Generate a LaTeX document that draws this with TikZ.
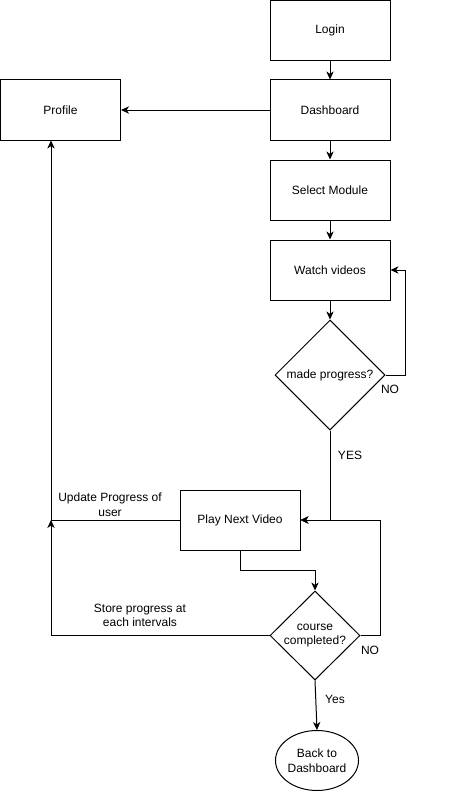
\documentclass[tikz,border=0pt]{standalone}
\usepackage{fontspec}
\setmainfont{Liberation Sans}
\usetikzlibrary{shapes.geometric,arrows.meta}

\def\xl{51}

\begin{document}
\begin{tikzpicture}[x=0.75pt, y=-0.75pt, line width=0.75pt,
  font=\fontsize{9}{11}\selectfont,
  box/.style={draw, minimum width=90pt, minimum height=45pt, inner sep=0pt},
  decide/.style={draw, diamond, aspect=1, inner sep=0pt, align=center},
  stop/.style={draw, ellipse, minimum width=61.5pt, minimum height=45pt, inner sep=0pt, align=center},
  arr/.style={-{Stealth[length=6pt, width=5.5pt, inset=1.8pt]}},
  lbl/.style={align=center, inner sep=0pt}]
\useasboundingbox (0,0) rectangle (451,792);

\node[box] (login) at (330,30.5) {Login};
\node[box] (dash) at (330,110) {Dashboard};
\node[box] (profile) at (60.5,110) {Profile};
\node[box] (module) at (330,190) {Select Module};
\node[box] (watch) at (330,270) {Watch videos};
\node[decide, minimum width=82.5pt, minimum height=82.5pt] (prog) at (330,375) {made progress?};
\node[box] (play) at (240,520) {Play Next Video};
\node[decide, minimum width=67.5pt, minimum height=66.75pt] (done) at (315,635.5) {course\\completed?};
\node[stop] (back) at (317,760.5) {Back to\\Dashboard};
\coordinate (join) at (\xl,520);

% main column
\draw[arr] (login) -- (dash);
\draw[arr] (dash) -- (profile);
\draw[arr] (dash) -- (module);
\draw[arr] (module) -- (watch);
\draw[arr] (watch) -- (prog);
\draw[arr] (prog.east) -- ++(20,0) |- (watch.east);
\draw[arr] (prog.south) |- (play.east);
\draw[arr] (play.south) -- ++(0,20) -| (done.north);
\draw[arr] (done.east) -- ++(20,0) |- (play.east);
\draw[arr] (done.south) -- (back.north);

% back to profile
\draw[arr] (play.west) -- (join) -- (join |- profile.south);
\draw[arr] (done.west) -| (join);

% labels
\node[lbl] (lno1) at (390,389) {NO};
\node[lbl] (lyes1) at (350,455) {YES};
\node[lbl] (lno2) at (370,650) {NO};
\node[lbl] (lyes2) at (335,699) {Yes};
\node[lbl] (lupd) at (110,505) {Update Progress of\\user};
\node[lbl] (lstore) at (140,615.5) {Store progress at\\each intervals};
\end{tikzpicture}
\end{document}
